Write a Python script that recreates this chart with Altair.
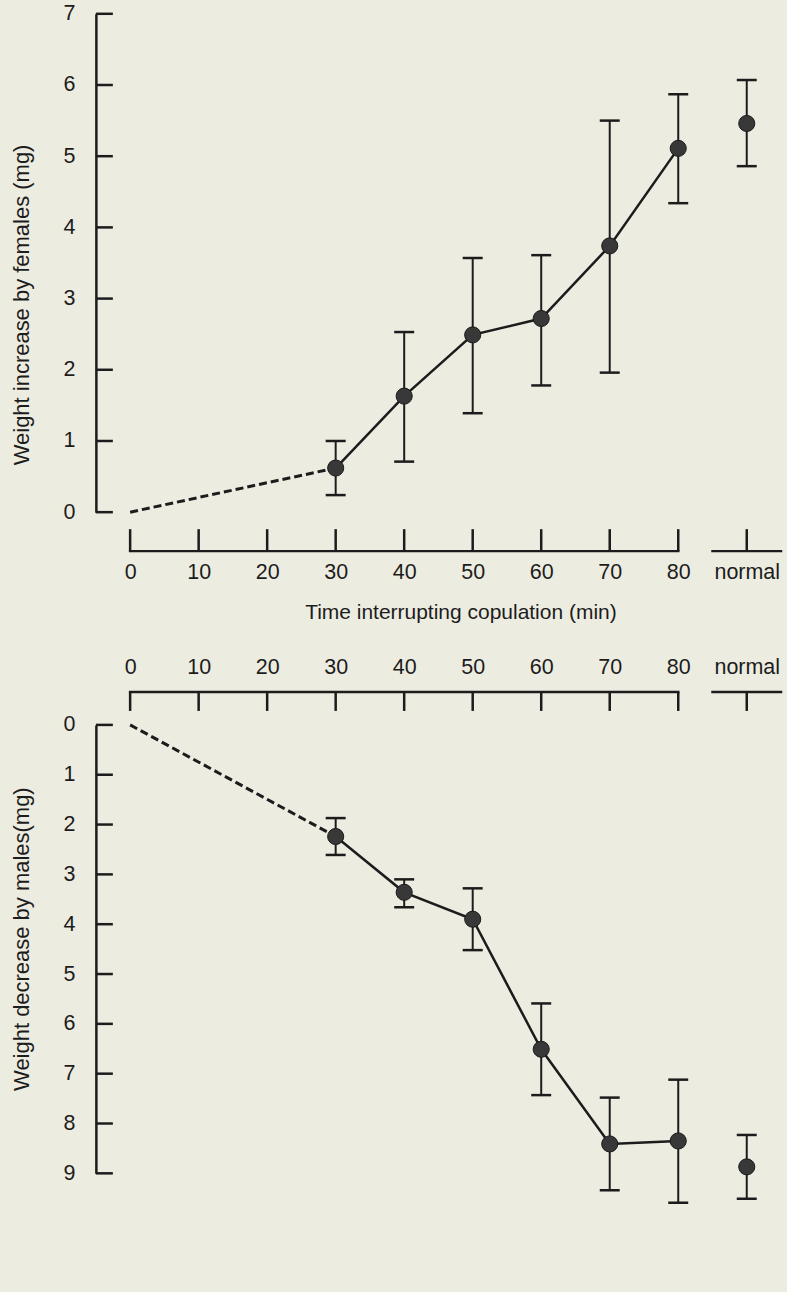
import json
import altair as alt
import pandas as pd

# ---------------- data ----------------
x_ticks = [0, 10, 20, 30, 40, 50, 60, 70, 80, 90]
x_tick_labels = ["0", "10", "20", "30", "40", "50", "60", "70", "80", "normal"]
x_seg_start = [0, 85]
x_seg_end = [80, 95]

minutes = [30, 40, 50, 60, 70, 80]
normal_x = 90

fem_mean = [0.62, 1.63, 2.49, 2.72, 3.74, 5.11]
fem_low = [0.24, 0.71, 1.39, 1.78, 1.96, 4.34]
fem_high = [1.00, 2.53, 3.57, 3.61, 5.50, 5.87]
fem_normal = [5.46, 4.86, 6.07]  # mean, low, high

male_mean = [2.24, 3.36, 3.90, 6.51, 8.41, 8.35]
male_low = [1.87, 3.10, 3.28, 5.59, 7.48, 7.12]
male_high = [2.61, 3.66, 4.52, 7.43, 9.34, 9.59]
male_normal = [8.87, 8.23, 9.51]

fem_y_ticks = [0, 1, 2, 3, 4, 5, 6, 7]
male_y_ticks = [0, 1, 2, 3, 4, 5, 6, 7, 8, 9]

title_x = "Time interrupting copulation (min)"
title_fem = "Weight increase by females (mg)"
title_male = "Weight decrease by males(mg)"

INK = "#1c1c1c"
DOT = "#383838"
FONT = "Liberation Sans"
W = 686

label_expr = f"{json.dumps(x_tick_labels)}[indexof({json.dumps(x_ticks)}, datum.value)]"
xscale = alt.Scale(domain=[-5, 95], nice=False, zero=False)


def panel(mean, low, high, normal, y_ticks, height, reverse, y_title, title_y,
          x_orient, x_offset, x_label_pad, axis_line_y, tick_end_y, x_title):
    yscale = alt.Scale(domain=[y_ticks[0], y_ticks[-1]], nice=False, zero=False,
                       reverse=reverse)
    yax = alt.Axis(values=y_ticks, domain=True, domainColor=INK, domainWidth=2.5,
                   ticks=False, tickSize=0, labelPadding=21, grid=False,
                   title=y_title, titleX=-74, titleY=title_y, titleAngle=270,
                   titleAlign="center", titleBaseline="middle", titleFontSize=22)
    xkw = dict(values=x_ticks, labelExpr=label_expr, orient=x_orient,
               offset=x_offset, domain=False, ticks=False, tickSize=0,
               labelPadding=x_label_pad, grid=False, title=x_title)
    if x_title:
        xkw.update(titleX=365, titleY=67, titleBaseline="alphabetic")
    xax = alt.Axis(**xkw)

    def X(f):
        return alt.X(f"{f}:Q", scale=xscale, axis=xax)

    def Y(f):
        return alt.Y(f"{f}:Q", scale=yscale, axis=yax)

    seg = pd.DataFrame({"s": x_seg_start, "e": x_seg_end})
    xt = pd.DataFrame({"t": x_ticks})
    yt = pd.DataFrame({"t": y_ticks})
    pts = pd.DataFrame({"x": minutes + [normal_x],
                        "m": mean + [normal[0]],
                        "lo": low + [normal[1]],
                        "hi": high + [normal[2]]})
    solid = pd.DataFrame({"x": minutes, "m": mean})
    dashed = pd.DataFrame({"x": [0, minutes[0]], "m": [0, mean[0]]})

    layers = [
        alt.Chart(seg).mark_rule(color=INK, strokeWidth=2.5, strokeCap="square").encode(
            x=X("s"), x2="e:Q", y=alt.value(axis_line_y)),
        alt.Chart(xt).mark_rule(color=INK, strokeWidth=2.5).encode(
            x=X("t"), y=alt.value(axis_line_y), y2=alt.value(tick_end_y)),
        alt.Chart(yt).mark_rule(color=INK, strokeWidth=2.5).encode(
            y=Y("t"), x=alt.value(0), x2=alt.value(17)),
        alt.Chart(dashed).mark_line(color=INK, strokeWidth=3, strokeDash=[8, 4]).encode(
            x=X("x"), y=Y("m")),
        alt.Chart(solid).mark_line(color=INK, strokeWidth=2.5).encode(
            x=X("x"), y=Y("m")),
        alt.Chart(pts).mark_rule(color=INK, strokeWidth=2).encode(
            x=X("x"), y=Y("lo"), y2="hi:Q"),
        alt.Chart(pts).mark_tick(color=INK, opacity=1, orient="horizontal", size=20,
                                 thickness=2.5).encode(x=X("x"), y=Y("lo")),
        alt.Chart(pts).mark_tick(color=INK, opacity=1, orient="horizontal", size=20,
                                 thickness=2.5).encode(x=X("x"), y=Y("hi")),
        alt.Chart(pts).mark_circle(size=260, color=DOT, opacity=1,
                                   stroke="#1a1a1a", strokeWidth=1).encode(
            x=X("x"), y=Y("m")),
    ]
    return alt.layer(*layers).properties(width=W, height=height)


top = panel(fem_mean, fem_low, fem_high, fem_normal, fem_y_ticks, 499, False,
            title_fem, 291, "bottom", 39, 10, 538, 516, title_x)
bottom = panel(male_mean, male_low, male_high, male_normal, male_y_ticks, 449, True,
               title_male, 214, "top", 33, 13, -33, -14, None)

chart = alt.vconcat(top, bottom, spacing=35).properties(
    background="#edece1",
    padding={"left": 10, "top": 2, "right": 4, "bottom": 92},
).configure_view(stroke=None).configure_axis(
    labelFont=FONT, titleFont=FONT, labelFontSize=21.5, titleFontSize=21,
    labelColor=INK, titleColor=INK, titleFontWeight="normal",
).configure_concat(spacing=35)

chart.save("out.html", embed_options={"renderer": "svg", "actions": False})
